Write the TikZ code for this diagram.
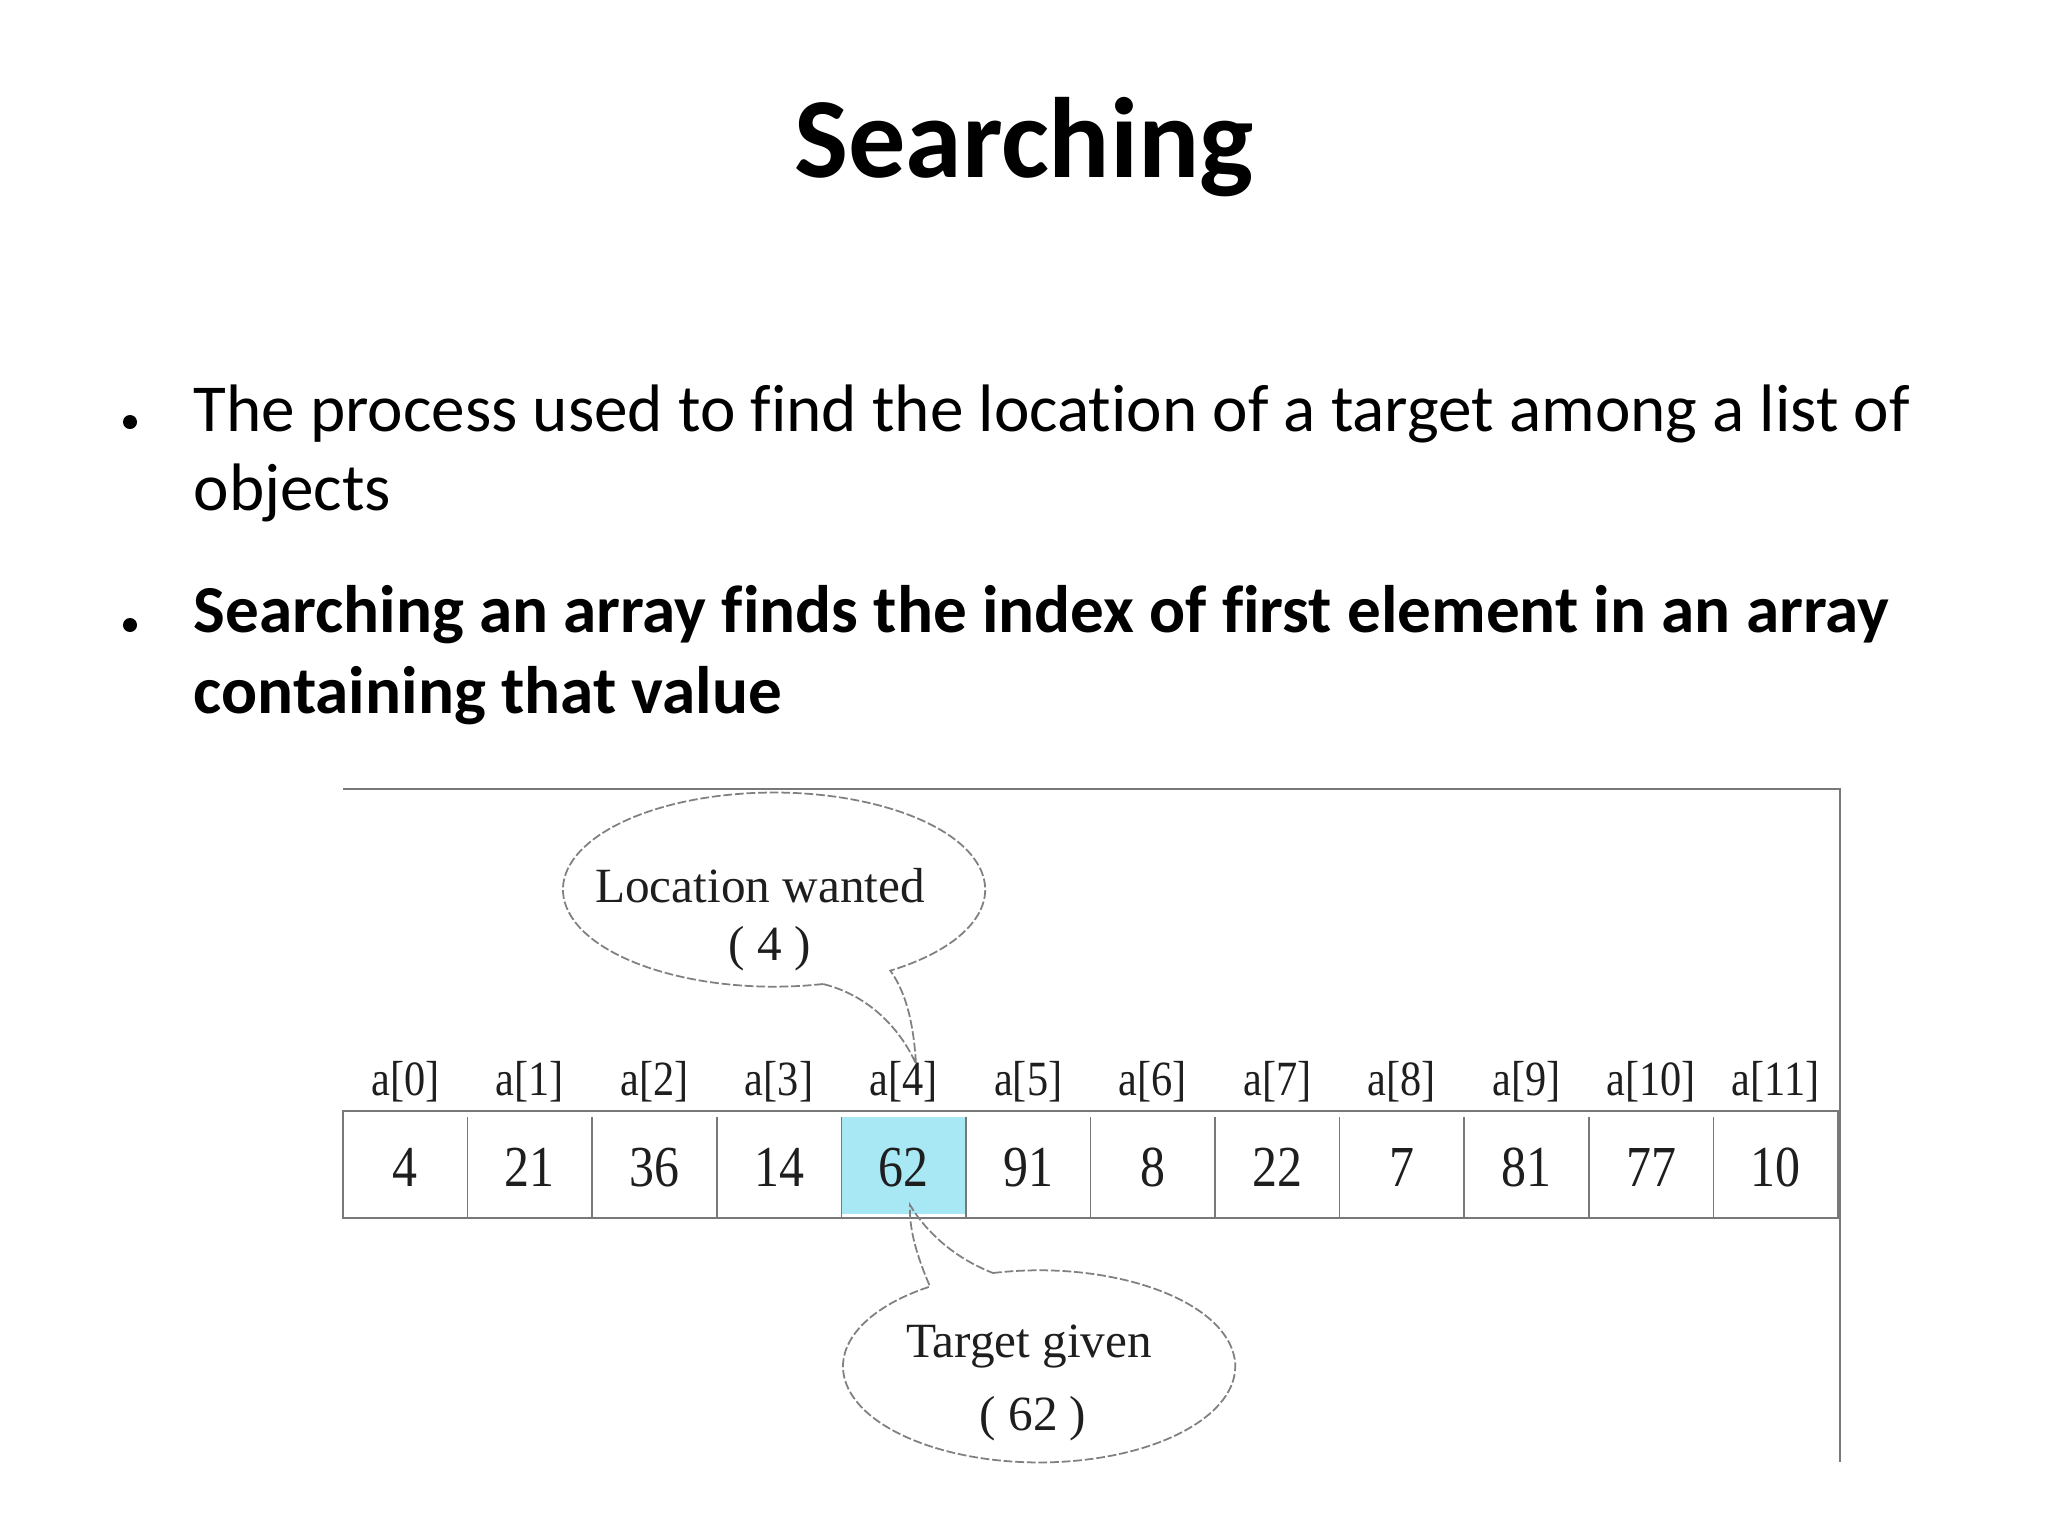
\documentclass[tikz,border=0pt]{standalone}
\usepackage{fontspec}
\setmainfont{Carlito}[Ligatures=NoCommon]
\newfontfamily\timesf{Liberation Serif}
\definecolor{linegray}{RGB}{120,120,120}
\definecolor{cellcyan}{RGB}{168,232,245}
\definecolor{txtdark}{RGB}{30,30,30}
\newcommand{\sqz}[2]{\scalebox{#1}[1]{#2}}
\begin{document}
\begin{tikzpicture}[x=0.01cm,y=-0.01cm,
  bodytext/.style={anchor=base west, inner sep=0, font=\fontsize{19.1}{23}\selectfont},
  boldtext/.style={anchor=base west, inner sep=0, font=\bfseries\fontsize{19.1}{23}\selectfont},
  bulletdot/.style={circle, fill=black, inner sep=0, minimum size=0.14cm},
  idx/.style={anchor=base, inner sep=0, text=txtdark, font=\timesf\fontsize{14}{16}\selectfont},
  val/.style={anchor=base, inner sep=0, text=txtdark, font=\timesf\fontsize{16.5}{19}\selectfont},
  calltext/.style={anchor=base, inner sep=0, text=txtdark, font=\timesf\fontsize{14}{16}\selectfont},
  frameline/.style={draw=linegray, line width=0.7pt},
  cellline/.style={draw=linegray, line width=0.45pt},
  balloon/.style={draw=gray, line width=0.5pt, dash pattern=on 2.5pt off 0.8pt}
]
\useasboundingbox[fill=white] (0,0) rectangle (2048,1536);

% title
\node[anchor=base, inner sep=0, font=\bfseries\fontsize{32.5}{39}\selectfont] (title) at (1024,177) {Searching};

% bullets
\node[bulletdot] (d1) at (130,422) {};
\node[bodytext] (b1a) at (193,431) {The process used to find the location of a target among a list of};
\node[bodytext] (b1b) at (193,510) {objects};
\node[bulletdot] (d2) at (130,625) {};
\node[boldtext] (b2a) at (193,632) {Searching an array finds the index of first element in an array};
\node[boldtext] (b2b) at (193,713) {containing that value};

% figure frame lines
\coordinate (fl) at (343,789);
\coordinate (fr) at (1840,789);
\coordinate (fb) at (1840,1462);
\draw[frameline] (fl) -- (fr) -- (fb);

% highlighted cell
\node[fill=cellcyan, inner sep=0, minimum width=1.236cm, minimum height=0.97cm] (c4) at (903.7,1165.5) {};

% array box
\draw[frameline] (343,1111) rectangle (1838,1218);
\foreach \i in {1,...,11} {
  \draw[cellline] ({343+\i*124.58},1117) -- ({343+\i*124.58},1218);
}

% index labels and values
\foreach \v [count=\i from 0] in {4,21,36,14,62,91,8,22,7,81,77,10} {
  \node[idx] (l\i) at ({405.29+\i*124.58},1095) {\sqz{0.86}{a[\i]}};
  \node[val] (v\i) at ({405.29+\i*124.58},1186) {\sqz{0.86}{\v}};
}

% callout 1
\node[calltext] (loc) at (760,902) {Location wanted};
\node[calltext] (loc4) at (770,960) {( 4 )};
\coordinate (tip1) at (916,1064);
\draw[balloon] (823,984) arc[start angle=-76.6, end angle=-416.6, x radius=2.11cm, y radius=0.97cm]
  .. controls (908,995) and (914,1030) .. (tip1)
  .. controls (900,1028) and (868,995) .. (823,984);

% callout 2
\node[calltext] (tg) at (1029,1357) {Target given};
\node[calltext] (tg62) at (1033,1430) {( 62 )};
\coordinate (tip2) at (910,1205);
\draw[balloon] (993,1273) arc[start angle=103.6, end angle=-236.2, x radius=1.96cm, y radius=0.96cm]
  .. controls (915,1252) and (909,1226) .. (tip2)
  .. controls (925,1230) and (952,1257) .. (993,1273);
\end{tikzpicture}
\end{document}
